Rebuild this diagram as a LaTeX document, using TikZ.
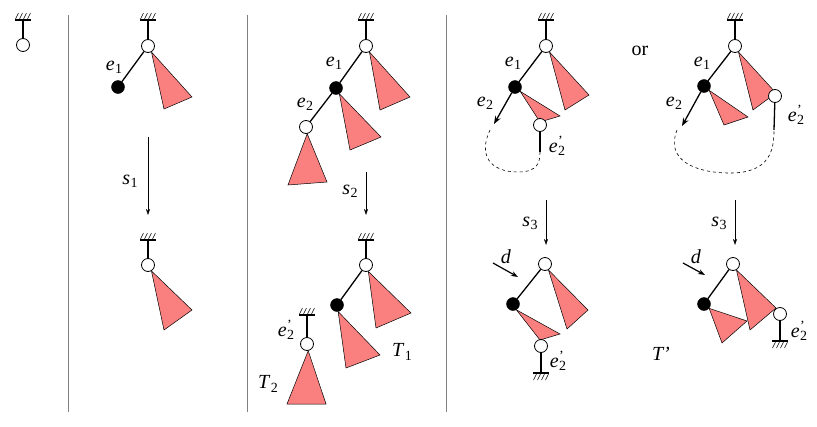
\documentclass[tikz,border=0pt]{standalone}
\usepackage{fontspec}
\setmainfont{Liberation Serif}
\usetikzlibrary{arrows.meta}
\newcommand{\lab}[2]{\textit{#1}\kern0.5pt{\raisebox{-0.35ex}{\upshape\fontsize{14}{14}\selectfont #2}}}
\newcommand{\labp}[1]{\textit{#1}\kern0.5pt\rlap{\raisebox{0.7ex}{\upshape\fontsize{14}{14}\selectfont '}}\raisebox{-0.35ex}{\upshape\fontsize{14}{14}\selectfont 2}}
\begin{document}
\begin{tikzpicture}[x=1pt,y=-1pt,
  lnk/.style={line width=1.3pt},
  onode/.style={circle,draw,fill=white,inner sep=0pt,minimum size=13pt,line width=0.8pt},
  bnode/.style={circle,draw,fill=black,inner sep=0pt,minimum size=13pt},
  tri/.style={fill={rgb,255:red,250;green,128;blue,128},draw=black,line width=0.5pt},
  sep/.style={draw=gray,line width=0.8pt},
  lbl/.style={font=\fontsize{20}{20}\selectfont,inner sep=0pt},
  step arrow/.style={-{Stealth[length=6pt,width=4pt]},line width=0.5pt}]
\useasboundingbox (0,0) rectangle (817,426);
\newcommand{\gup}[2]{\draw[line width=1.3pt] (#1-8,#2) -- (#1+8,#2);
  \foreach \i in {-6,-2,2,6}{\draw[line width=0.5pt] (#1+\i-1.5,#2-1) -- (#1+\i+1.5,#2-7);}}
\newcommand{\gdn}[2]{\draw[line width=1.3pt] (#1-8,#2) -- (#1+8,#2);
  \foreach \i in {-6,-2,2,6}{\draw[line width=0.5pt] (#1+\i-1.5,#2+7) -- (#1+\i+1.5,#2+1);}}
\draw[sep] (68,15) -- (68,412);
\draw[sep] (247,15) -- (247,412);
\draw[sep] (446,15) -- (446,412);
% panel 0
\gup{23}{20}
\node[onode] (p0) at (23,45) {};
\coordinate (p0g) at (23,20);
\draw[lnk] (p0g) -- (p0);
% panel 1 top
\gup{148}{20}
\coordinate (a1g) at (148,20);
\node[onode] (a1r) at (148,46) {};
\node[bnode] (a1b) at (118,87) {};
\draw[lnk] (a1g) -- (a1r); \draw[lnk] (a1r) -- (a1b);
\draw[tri] (a1r.-60) -- (192,97) -- (164,109) -- cycle;
\node[lbl] at (114,67) {\lab{e}{1}};
\coordinate (s1a) at (148,137); \coordinate (s1b) at (148,215);
\draw[step arrow] (s1a) -- (s1b);
\node[lbl] at (130,181) {\lab{s}{1}};
% panel 1 bottom
\gup{148}{240}
\coordinate (b1g) at (148,240);
\node[onode] (b1r) at (148,265) {};
\draw[lnk] (b1g) -- (b1r);
\draw[tri] (b1r.-60) -- (192,310) -- (164,330) -- cycle;
% panel 2 top
\gup{366}{20}
\coordinate (a2g) at (366,20);
\node[onode] (a2r) at (366,46) {};
\node[bnode] (a2b) at (336,88) {};
\node[onode] (a2c) at (306,127) {};
\draw[lnk] (a2g) -- (a2r); \draw[lnk] (a2r) -- (a2b); \draw[lnk] (a2b) -- (a2c);
\draw[tri] (a2r.-60) -- (410,97) -- (380,110) -- cycle;
\draw[tri] (a2b.-60) -- (381,137) -- (350,150) -- cycle;
\draw[tri] (a2c.-80) -- (327,182) -- (288,185) -- cycle;
\node[lbl] at (334,63) {\lab{e}{1}};
\node[lbl] at (305,104) {\lab{e}{2}};
\coordinate (s2a) at (366,172); \coordinate (s2b) at (366,215);
\draw[step arrow] (s2a) -- (s2b);
\node[lbl] at (350,191) {\lab{s}{2}};
% panel 2 bottom
\gup{366}{240}
\coordinate (b2g) at (366,240);
\node[onode] (b2r) at (366,265) {};
\node[bnode] (b2b) at (337,305) {};
\draw[lnk] (b2g) -- (b2r); \draw[lnk] (b2r) -- (b2b);
\draw[tri] (b2r.-70) -- (411,313) -- (376,328) -- cycle;
\draw[tri] (b2b.-80) -- (380,355) -- (346,368) -- cycle;
\gup{307}{315}
\coordinate (b2g2) at (307,315);
\node[onode] (b2c) at (307,344) {};
\draw[lnk] (b2g2) -- (b2c);
\draw[tri] (b2c.-80) -- (326,404) -- (287,404) -- cycle;
\node[lbl] at (286,330) {\labp{e}};
\node[lbl] at (268,384) {\lab{T}{2}};
\node[lbl] at (402,352) {\lab{T}{1}};
% panel 3 top
\gup{546}{20}
\coordinate (a3g) at (546,20);
\node[onode] (a3r) at (546,46) {};
\node[bnode] (a3b) at (515,87) {};
\draw[lnk] (a3g) -- (a3r); \draw[lnk] (a3r) -- (a3b);
\draw[tri] (a3r.-60) -- (589,95) -- (565,110) -- cycle;
\draw[tri] (a3b.-40) -- (560,116) -- (540,122) -- cycle;
\node[onode] (a3c) at (540,125) {};
\coordinate (a3e) at (540,152);
\draw[lnk] (a3c) -- (a3e);
\coordinate (a3t) at (494,124);
\draw[lnk,-{Stealth[length=8pt,width=6pt]}] (a3b) -- (a3t);
\draw[dashed,line width=0.6pt] (490,130) .. controls (478,155) and (490,172) .. (518,172) .. controls (538,172) and (540,162) .. (a3e);
\node[lbl] at (513,63) {\lab{e}{1}};
\node[lbl] at (485,103) {\lab{e}{2}};
\node[lbl] at (557,146) {\labp{e}};
\node[lbl] at (640,51) {or};
\coordinate (s3a) at (546,200); \coordinate (s3b) at (546,245);
\draw[step arrow] (s3a) -- (s3b);
\node[lbl] at (530,223) {\lab{s}{3}};
% panel 3 bottom
\node[onode] (b3r) at (545,264) {};
\node[bnode] (b3b) at (513,304) {};
\draw[lnk] (b3r) -- (b3b);
\draw[tri] (b3r.-60) -- (588,310) -- (567,329) -- cycle;
\draw[tri] (b3b.-60) -- (560,334) -- (540,340) -- cycle;
\node[onode] (b3c) at (541,346) {};
\gdn{541}{373}
\coordinate (b3g) at (541,373);
\draw[lnk] (b3c) -- (b3g);
\coordinate (d3a) at (493,263); \coordinate (d3b) at (518,277);
\draw[line width=1.2pt,-{Stealth[length=7pt,width=5pt]}] (d3a) -- (d3b);
\node[lbl] at (506,257) {\textit{d}};
\node[lbl] at (558,361) {\labp{e}};
% panel 4 top
\gup{735}{20}
\coordinate (a4g) at (735,20);
\node[onode] (a4r) at (735,46) {};
\node[bnode] (a4b) at (704,86) {};
\draw[lnk] (a4g) -- (a4r); \draw[lnk] (a4r) -- (a4b);
\draw[tri] (a4r.-60) -- (776,93) -- (753,110) -- cycle;
\draw[tri] (a4b.-40) -- (748,117) -- (724,125) -- cycle;
\node[onode] (a4c) at (775,96) {};
\coordinate (a4e) at (774,130);
\draw[lnk] (a4c) -- (a4e);
\coordinate (a4t) at (682,126);
\draw[lnk,-{Stealth[length=8pt,width=6pt]}] (a4b) -- (a4t);
\draw[dashed,line width=0.6pt] (677,130) .. controls (665,160) and (695,173) .. (730,173) .. controls (770,173) and (774,150) .. (a4e);
\node[lbl] at (702,63) {\lab{e}{1}};
\node[lbl] at (674,103) {\lab{e}{2}};
\node[lbl] at (796,115) {\labp{e}};
\coordinate (s4a) at (735,200); \coordinate (s4b) at (735,245);
\draw[step arrow] (s4a) -- (s4b);
\node[lbl] at (719,223) {\lab{s}{3}};
% panel 4 bottom
\node[onode] (b4r) at (733,264) {};
\node[bnode] (b4b) at (704,304) {};
\draw[lnk] (b4r) -- (b4b);
\draw[tri] (b4r.-60) -- (776,308) -- (750,330) -- cycle;
\draw[tri] (b4b.-40) -- (747,321) -- (722,343) -- cycle;
\node[onode] (b4c) at (780,314) {};
\gdn{780}{341}
\coordinate (b4g) at (780,341);
\draw[lnk] (b4c) -- (b4g);
\coordinate (d4a) at (683,263); \coordinate (d4b) at (705,275);
\draw[line width=1.2pt,-{Stealth[length=7pt,width=5pt]}] (d4a) -- (d4b);
\node[lbl] at (696,257) {\textit{d}};
\node[lbl] at (799,331) {\labp{e}};
\node[lbl] at (661,354) {\textit{T'}};
\end{tikzpicture}
\end{document}
